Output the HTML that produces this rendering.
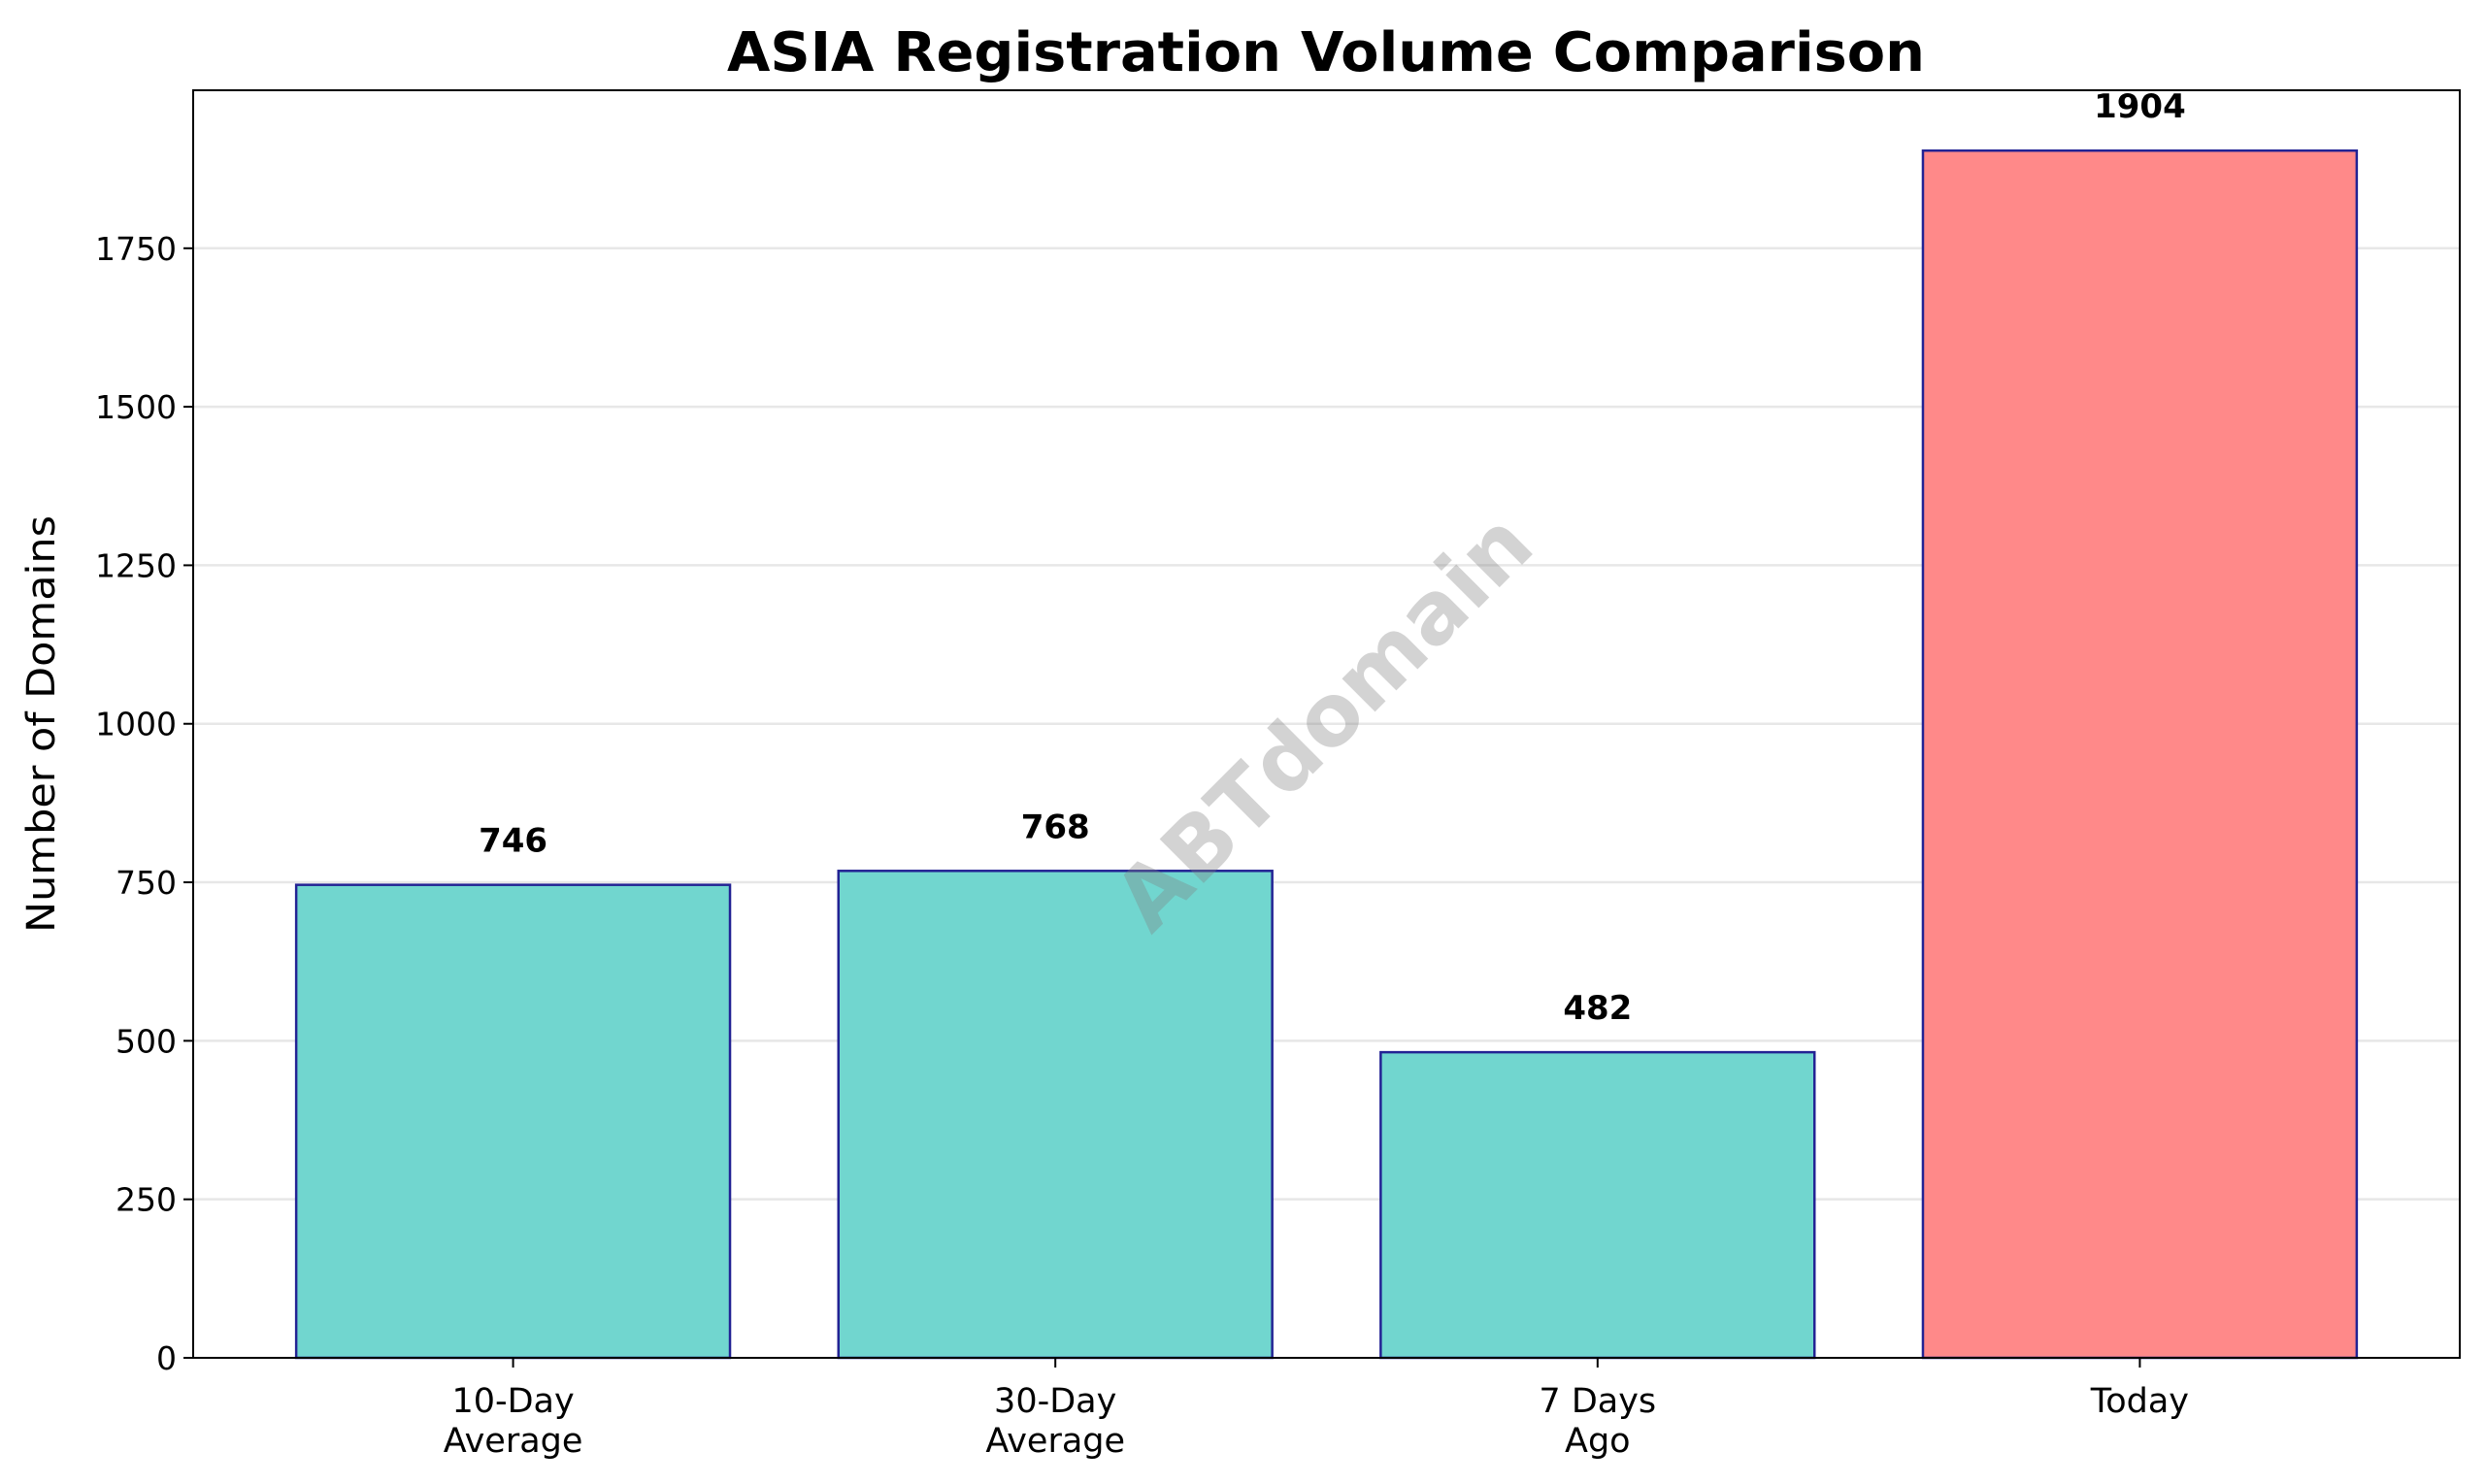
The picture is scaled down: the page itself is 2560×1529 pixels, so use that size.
<!DOCTYPE html>
<html><head><meta charset="utf-8"><style>
html,body{margin:0;padding:0;background:#fff;}
svg{display:block;font-family:"DejaVu Sans","Liberation Sans",sans-serif;}
</style></head><body>
<svg id="chart" width="2560" height="1529" viewBox="0 0 2560 1529" xmlns="http://www.w3.org/2000/svg">
<rect width="2560" height="1529" fill="#fff"/>
<g id="grid"></g>
<g id="bars"></g>
<g id="labels"></g>
<g id="axes"></g>
<text x="1366" y="73" text-anchor="middle" font-size="56" font-weight="bold" textLength="1234" lengthAdjust="spacingAndGlyphs">ASIA Registration Volume Comparison</text>
<text transform="translate(56,746) rotate(-90)" text-anchor="middle" font-size="40" textLength="430" lengthAdjust="spacingAndGlyphs">Number of Domains</text>
<text transform="translate(1368,748) rotate(-45)" text-anchor="middle" dominant-baseline="middle" font-size="88" font-weight="bold" fill="#808080" fill-opacity="0.35">ABTdomain</text>
</svg>
<script>
const categories = [["10-Day","Average"],["30-Day","Average"],["7 Days","Ago"],["Today"]];
const values = [746, 768, 482, 1904];
const highlight = [false, false, false, true];
const yTicks = [0, 250, 500, 750, 1000, 1250, 1500, 1750];

const L=199, R=2534, T=93, B=1399;
const yMax = Math.max(...values)*1.05;
const xMin=-0.59, xMax=categories.length-1+0.59;
const xs = v => L + (v - xMin)/(xMax - xMin)*(R-L);
const ys = v => B - v/yMax*(B-T);
const NS="http://www.w3.org/2000/svg";
function mk(tag, attrs, parent){const e=document.createElementNS(NS,tag);for(const k in attrs)e.setAttribute(k,attrs[k]);parent.appendChild(e);return e;}
const grid=document.getElementById('grid'), bars=document.getElementById('bars'), labels=document.getElementById('labels'), axes=document.getElementById('axes');
const unit=(R-L)/(xMax-xMin);

yTicks.forEach(t=>{
  const y=ys(t);
  if(t>0){const g=mk('line',{x1:L,x2:R,y1:y,y2:y,stroke:'#b0b0b0','stroke-opacity':0.3,'stroke-width':2.5},grid);
  
  }
  const tk=mk('line',{x1:L-10,x2:L,y1:y,y2:y,stroke:'#000','stroke-width':2},axes);
  
  
  const tl=mk('text',{x:L-17,y:y+12,'text-anchor':'end','font-size':33},axes);
  tl.textContent=t;
  
  
});

values.forEach((v,i)=>{
  const cx=xs(i), w=0.8*unit, top=ys(v);
  const r=mk('rect',{x:cx-w/2,y:top,width:w,height:B-top,fill:highlight[i]?'#ff8989':'#71d6cf',stroke:'#232394','stroke-width':2.5},bars);
  
  
  const vl=mk('text',{x:cx,y:top-34,'text-anchor':'middle','font-size':34,'font-weight':'bold'},labels);
  vl.textContent=v;
  
  
  const tk=mk('line',{x1:cx,x2:cx,y1:B,y2:B+10,stroke:'#000','stroke-width':2},axes);
  
  
  categories[i].forEach((ln,j)=>{
    const t=mk('text',{x:cx,y:1455+j*41,'text-anchor':'middle','font-size':35},axes);
    t.textContent=ln;
    
    
  });
});
const fr=mk('rect',{x:L,y:T,width:R-L,height:B-T,fill:'none',stroke:'#000','stroke-width':2},axes);


</script>
</body></html>
